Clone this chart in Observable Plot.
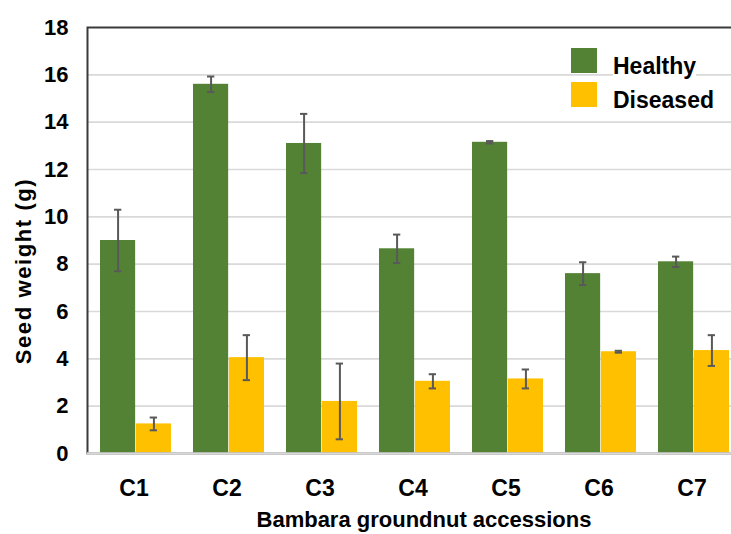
<!DOCTYPE html>
<html>
<head>
<meta charset="utf-8">
<script src="https://cdn.jsdelivr.net/npm/d3@7"></script>
<script src="https://cdn.jsdelivr.net/npm/@observablehq/plot@0.6"></script>
<style>
  html, body { margin: 0; padding: 0; background: #fff; overflow: hidden; }
  #wrap { position: relative; width: 731px; height: 534px; font-family: "Liberation Sans", Arial, sans-serif; font-weight: bold; color: #000; }
  #wrap svg { position: absolute; left: 0; top: 0; overflow: visible; }
  #wrap svg text { font-family: "Liberation Sans", Arial, sans-serif; font-weight: bold; fill: #000; }
  .ttl { position: absolute; white-space: nowrap; line-height: 1; }
  .sw { position: absolute; width: 26px; height: 25px; }
  .lg { position: absolute; font-size: 23px; line-height: 1; background: #fff; white-space: nowrap; }
</style>
</head>
<body>
<div id="wrap"></div>
<script>
const accessions = ["C1", "C2", "C3", "C4", "C5", "C6", "C7"];
const seriesNames = ["Healthy", "Diseased"];
const healthy = [9.0, 15.6, 13.1, 8.65, 13.15, 7.6, 8.1];
const healthyErr = [1.3, 0.33, 1.25, 0.6, 0.05, 0.48, 0.22];
const diseased = [1.25, 4.05, 2.2, 3.05, 3.15, 4.3, 4.35];
const diseasedErr = [0.27, 0.95, 1.6, 0.3, 0.4, 0.04, 0.65];
const yTicks = [0, 2, 4, 6, 8, 10, 12, 14, 16, 18];
const colors = ["#548235", "#FFC000"];
const yTitle = "Seed weight (g)";
const xTitle = "Bambara groundnut accessions";

const hRows = accessions.map((a, i) => ({acc: a, series: seriesNames[0], value: healthy[i], err: healthyErr[i]}));
const dRows = accessions.map((a, i) => ({acc: a, series: seriesNames[1], value: diseased[i], err: diseasedErr[i]}));

const half = 35.85; // half of the band width
const errStyle = {stroke: "#595959", strokeWidth: 2};

const chart = Plot.plot({
  width: 731,
  height: 534,
  marginTop: 27,
  marginBottom: 81,
  marginLeft: 87,
  marginRight: -12,
  x: {domain: accessions, paddingInner: 0.235, paddingOuter: 0.1175, axis: null},
  y: {domain: [0, 18], axis: null},
  marks: [
    Plot.gridY(yTicks.filter(d => d > 0 && d < 18), {stroke: "#d9d9d9", strokeOpacity: 1, strokeWidth: 1.6}),
    Plot.barY(hRows, {x: "acc", y: "value", fill: colors[0], insetRight: half}),
    Plot.barY(dRows, {x: "acc", y: "value", fill: colors[1], insetLeft: half}),
    Plot.ruleX(hRows, {x: "acc", y1: d => d.value - d.err, y2: d => d.value + d.err, dx: -half / 2, ...errStyle}),
    Plot.ruleX(dRows, {x: "acc", y1: d => d.value - d.err, y2: d => d.value + d.err, dx: half / 2, ...errStyle}),
    Plot.tickY(hRows, {x: "acc", y: d => d.value + d.err, insetLeft: 14, insetRight: 49.7, ...errStyle}),
    Plot.tickY(hRows, {x: "acc", y: d => d.value - d.err, insetLeft: 14, insetRight: 49.7, ...errStyle}),
    Plot.tickY(dRows, {x: "acc", y: d => d.value + d.err, insetLeft: 49.7, insetRight: 14, ...errStyle}),
    Plot.tickY(dRows, {x: "acc", y: d => d.value - d.err, insetLeft: 49.7, insetRight: 14, ...errStyle}),
    Plot.frame({stroke: "#3a3a3a", strokeWidth: 2}),
    Plot.ruleY([0], {stroke: "#d9d9d9", strokeWidth: 2.5}),
    Plot.axisY(yTicks, {tickSize: 0, tickPadding: 19, fontSize: 22, label: null}),
    Plot.axisX({tickSize: 0, tickPadding: 26, fontSize: 23, dx: -2, label: null})
  ]
});

const wrap = document.getElementById("wrap");
wrap.appendChild(chart);

// Axis titles
const yt = document.createElement("div");
yt.className = "ttl";
yt.textContent = yTitle;
yt.style.fontSize = "22px";
yt.style.letterSpacing = "1.6px";
yt.style.left = "24px";
yt.style.top = "271px";
yt.style.transform = "translate(-50%, -50%) rotate(-90deg)";
wrap.appendChild(yt);

const xt = document.createElement("div");
xt.className = "ttl";
xt.textContent = xTitle;
xt.style.fontSize = "22px";
xt.style.left = "424px";
xt.style.top = "509px";
xt.style.transform = "translateX(-50%)";
wrap.appendChild(xt);

// Legend
const legendTops = [48, 82];
seriesNames.forEach((name, i) => {
  const sw = document.createElement("div");
  sw.className = "sw";
  sw.style.left = "571px";
  sw.style.top = legendTops[i] + "px";
  sw.style.background = colors[i];
  wrap.appendChild(sw);
  const lg = document.createElement("div");
  lg.className = "lg";
  lg.textContent = name;
  lg.style.left = "613px";
  lg.style.top = (legendTops[i] + 7) + "px";
  wrap.appendChild(lg);
});
</script>
</body>
</html>
